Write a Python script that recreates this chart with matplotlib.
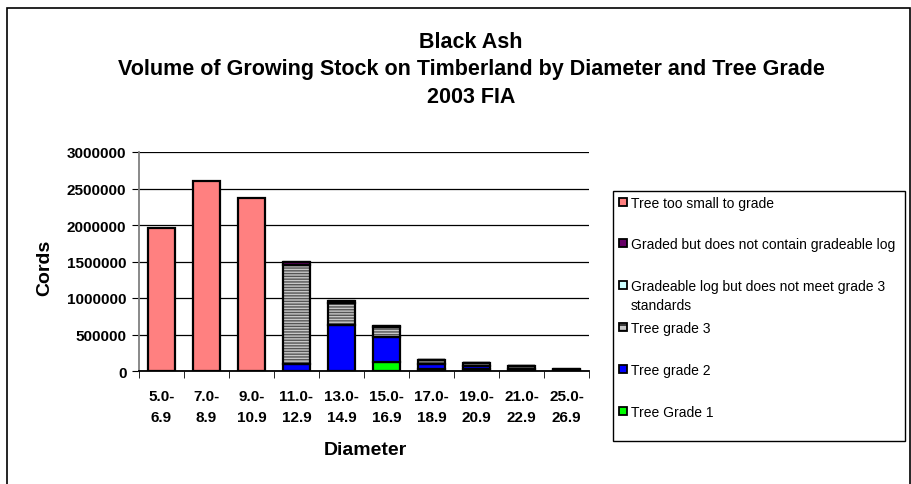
import numpy as np
import matplotlib.pyplot as plt
from matplotlib.patches import Rectangle

plt.rcParams['font.family'] = ['Liberation Sans', 'DejaVu Sans']

# diameter classes (inches)
diameters = ["5.0-\n6.9", "7.0-\n8.9", "9.0-\n10.9", "11.0-\n12.9", "13.0-\n14.9",
             "15.0-\n16.9", "17.0-\n18.9", "19.0-\n20.9", "21.0-\n22.9", "25.0-\n26.9"]

# volume in cords, by tree grade
grade1 = [0, 0, 0, 0, 0, 120000, 25000, 25000, 5000, 0]
grade2 = [0, 0, 0, 90000, 630000, 340000, 75000, 45000, 25000, 0]
grade3 = [0, 0, 0, 1360000, 300000, 140000, 50000, 45000, 40000, 20000]
no_grade3 = [0, 0, 0, 0, 0, 0, 0, 0, 0, 0]
no_gradeable_log = [0, 0, 0, 40000, 30000, 10000, 0, 0, 0, 5000]
too_small = [1960000, 2600000, 2370000, 0, 0, 0, 0, 0, 0, 0]

series = [
    ("Tree Grade 1", grade1, "#00ff00", None),
    ("Tree grade 2", grade2, "#0000ff", None),
    ("Tree grade 3", grade3, "#c8c8c8", "------"),
    ("Gradeable log but does not meet grade 3\nstandards", no_grade3, "#ccffff", None),
    ("Graded but does not contain gradeable log", no_gradeable_log, "#660066", None),
    ("Tree too small to grade", too_small, "#ff8080", None),
]

W, H = 912, 485
fig = plt.figure(figsize=(W / 100, H / 100), dpi=100)
fig.patches.append(Rectangle((7 / W, -0.01), (910 - 7) / W, 1 - 9 / H + 0.01,
                             transform=fig.transFigure, fill=False,
                             edgecolor="black", linewidth=1.2))

ax = fig.add_axes([139 / W, 1 - 372 / H, 450 / W, 219 / H])
x = np.arange(len(diameters))
bottom = np.zeros(len(diameters))
for label, vals, color, hatch in series:
    vals = np.array(vals, dtype=float)
    if hatch:
        ax.bar(x, vals, 0.6, bottom=bottom, color=color, hatch=hatch,
               edgecolor="#555555", linewidth=0, zorder=3)
        ax.bar(x, vals, 0.6, bottom=bottom, fill=False,
               edgecolor="black", linewidth=1.6, zorder=3)
    else:
        ax.bar(x, vals, 0.6, bottom=bottom, color=color,
               edgecolor="black", linewidth=1.6, zorder=3)
    bottom += vals

ax.set_xlim(-0.5, len(diameters) - 0.5)
ax.set_ylim(0, 3000000)
ax.set_yticks(np.arange(0, 3000001, 500000))
ax.set_yticklabels([str(v) for v in range(0, 3000001, 500000)],
                   fontsize=11, fontweight="bold")
ax.set_xticks(x)
ax.set_xticklabels(diameters, fontsize=11, fontweight="bold", linespacing=1.6)
ax.set_xticks(np.arange(-0.5, len(diameters)), minor=True)
ax.tick_params(axis="x", which="major", length=0, pad=13)
ax.tick_params(axis="x", which="minor", length=5, direction="out", color="black")
ax.tick_params(axis="y", length=5, direction="out", pad=4, color="black")
ax.yaxis.grid(True, color="black", linewidth=0.9, zorder=0)
ax.set_axisbelow(True)
for s in ["top", "right"]:
    ax.spines[s].set_visible(False)
ax.spines["left"].set_color("#808080")
ax.spines["bottom"].set_color("black")
ax.spines["left"].set_linewidth(1.3)
ax.spines["bottom"].set_linewidth(1.3)

fig.text(365 / W, 1 - 451 / H, "Diameter", ha="center", va="center",
         fontsize=14, fontweight="bold")
fig.text(45 / W, 1 - 268 / H, "Cords", ha="center", va="center", rotation=90,
         fontsize=14, fontweight="bold")

titles = ["Black Ash",
          "Volume of Growing Stock on Timberland by Diameter and Tree Grade",
          "2003 FIA"]
for t, ypix in zip(titles, [42, 70, 98]):
    fig.text(471 / W, 1 - ypix / H, t, ha="center", va="center",
             fontsize=15.5, fontweight="bold")

# legend box, entries top to bottom
fig.patches.append(Rectangle((613 / W, 1 - 442 / H), (905 - 613) / W, 250 / H,
                             transform=fig.transFigure, fill=False,
                             edgecolor="black", linewidth=1))
leg_y = [203, 244, 286, 328, 370, 412]
for (label, vals, color, hatch), ypix in zip(series[::-1], leg_y):
    fig.patches.append(Rectangle((619 / W, 1 - (ypix + 4) / H), 8 / W, 8 / H,
                                 transform=fig.transFigure, facecolor=color,
                                 hatch=hatch and "---", edgecolor="black",
                                 linewidth=1.3))
    for i, line in enumerate(label.split("\n")):
        fig.text(631 / W, 1 - (ypix + 1 + 19 * i) / H, line, ha="left",
                 va="center", fontsize=10)

fig.savefig("out.png", dpi=100)
